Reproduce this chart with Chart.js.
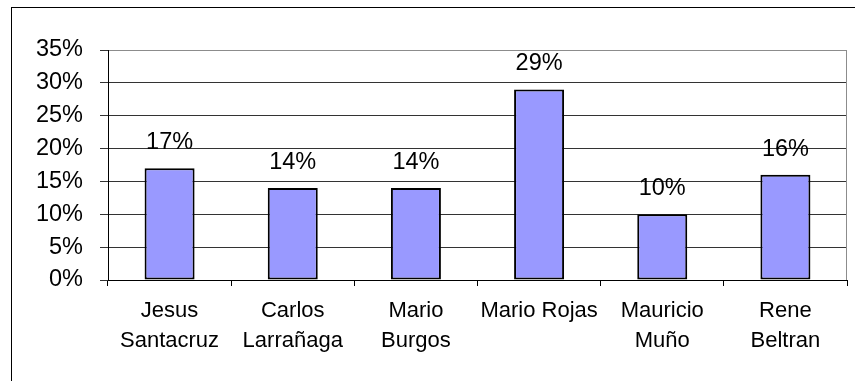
<!DOCTYPE html>
<html>
<head>
<meta charset="utf-8">
<script src="https://cdn.jsdelivr.net/npm/chart.js@4/dist/chart.umd.min.js"></script>
<style>
  html, body { margin: 0; padding: 0; background: #fff; }
  #wrap { width: 855px; height: 381px; position: relative; }
</style>
</head>
<body>
<div id="wrap"><canvas id="grafico"></canvas></div>
<script>
// --- DATOS ---
const vendedores = [
  ["Jesus", "Santacruz"],
  ["Carlos", "Larrañaga"],
  ["Mario", "Burgos"],
  "Mario Rojas",
  ["Mauricio", "Muño"],
  ["Rene", "Beltran"],
];
const porcentajes = [17, 14, 14, 29, 10, 16];
const ticksY = [0, 5, 10, 15, 20, 25, 30, 35];

const fuente = "'Liberation Sans', Arial, sans-serif";

// marco exterior + borde derecho del area de trazado
const marcos = {
  id: "marcos",
  beforeDraw(chart) {
    const c = chart.ctx;
    c.save();
    c.strokeStyle = "#000";
    c.lineWidth = 1;
    c.strokeRect(11.5, 7.5, 900, 500);
    c.restore();
  },
  afterDraw(chart) {
    const a = chart.chartArea;
    const c = chart.ctx;
    c.save();
    c.strokeStyle = "#8c8c8c";
    c.lineWidth = 1;
    c.beginPath();
    c.moveTo(Math.round(a.right) - 0.5, a.top);
    c.lineTo(Math.round(a.right) - 0.5, a.bottom);
    c.stroke();
    c.restore();
  },
};

// etiquetas de valor encima de cada barra
const etiquetas = {
  id: "etiquetas",
  afterDatasetsDraw(chart) {
    const c = chart.ctx;
    const meta = chart.getDatasetMeta(0);
    c.save();
    c.font = "23.5px " + fuente;
    c.fillStyle = "#000";
    c.textAlign = "center";
    c.textBaseline = "alphabetic";
    meta.data.forEach((bar, i) => {
      c.fillText(porcentajes[i] + "%", bar.x, bar.y - 19);
    });
    c.restore();
  },
};

new Chart(document.getElementById("grafico"), {
  type: "bar",
  data: {
    labels: vendedores,
    datasets: [
      {
        data: porcentajes,
        backgroundColor: "#9999ff",
        borderColor: "#000",
        borderWidth: 2,
        borderSkipped: false,
        barPercentage: 0.406,
        categoryPercentage: 1,
      },
    ],
  },
  options: {
    responsive: true,
    maintainAspectRatio: false,
    animation: false,
    layout: { padding: { top: 50, right: 8, left: 0, bottom: 0 } },
    plugins: { legend: { display: false }, tooltip: { enabled: false } },
    scales: {
      x: {
        afterFit: (s) => { s.height = 101; },
        grid: {
          drawOnChartArea: false,
          drawTicks: true,
          tickLength: 6,
          color: "#000",
          offset: true,
        },
        border: { display: true, color: "#000", width: 1 },
        ticks: {
          color: "#000",
          padding: 10,
          maxRotation: 0,
          autoSkip: false,
          font: { family: fuente, size: 22, lineHeight: 1.364 },
        },
      },
      y: {
        min: ticksY[0],
        max: ticksY[ticksY.length - 1],
        afterFit: (s) => { s.width = 108; },
        afterBuildTicks: (s) => { s.ticks = ticksY.map((v) => ({ value: v })); },
        grid: {
          color: (ctx) => (ctx.tick && ctx.tick.value === 35 ? "#8c8c8c" : "#333"),
          tickColor: "#333",
          tickLength: 8,
        },
        border: { display: true, color: "#000", width: 1 },
        ticks: {
          color: "#000",
          padding: 17,
          callback: (v) => v + "%",
          font: { family: fuente, size: 23.5 },
        },
      },
    },
  },
  plugins: [marcos, etiquetas],
});
</script>
</body>
</html>
